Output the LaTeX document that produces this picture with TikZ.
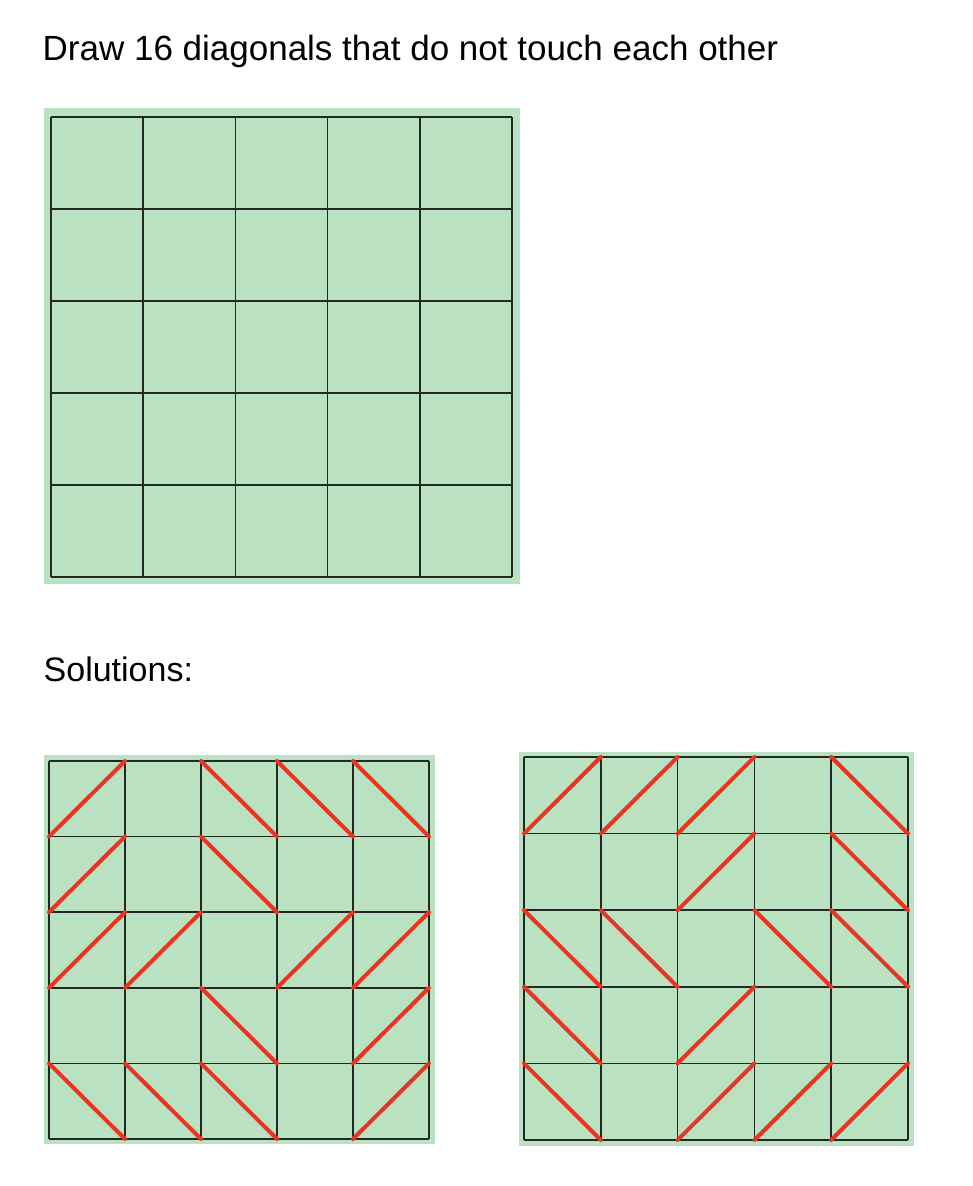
\documentclass[tikz,border=0pt]{standalone}
\usepackage{fontspec}
\setmainfont{Liberation Sans}
\definecolor{boardgreen}{RGB}{186,226,192}
\definecolor{gridline}{RGB}{34,40,36}
\definecolor{diagred}{RGB}{233,52,35}
\tikzset{
  boardbg/.style={fill=boardgreen, draw=none},
  gridlines/.style={draw=gridline, line width=1.5pt},
  diagline/.style={draw=diagred, line width=4pt, line cap=round},
  caption/.style={anchor=base west, inner sep=0pt}
}
\begin{document}
\begin{tikzpicture}[x=1pt, y=-1pt]
\useasboundingbox (0,0) rectangle (972,1186);
\fill[white] (0,0) rectangle (972,1186);

% title
\node[caption, font=\fontsize{35}{42}\selectfont] (title) at (42.5,60) {Draw 16 diagonals that do not touch each other};

% puzzle board
\fill[boardbg] (44,108) rectangle (520,584);
\begin{scope}[shift={(51,117)}, x=92.2pt, y=-92pt]
  \foreach \i in {0,...,5} {
    \draw[gridlines] (\i,0) -- (\i,5);
    \draw[gridlines] (0,\i) -- (5,\i);
  }
\end{scope}

% solutions label
\node[caption, font=\fontsize{34}{40}\selectfont] (solutions) at (43.5,681) {Solutions:};

% solution 1
\fill[boardbg] (44,755) rectangle (435,1144);
\begin{scope}[shift={(49,761)}, x=76pt, y=-75.6pt]
  \foreach \i in {0,...,5} {
    \draw[gridlines] (\i,0) -- (\i,5);
    \draw[gridlines] (0,\i) -- (5,\i);
  }
  \foreach \c/\r in {0/0,0/1,0/2,1/2,3/2,4/2,4/3,4/4}
    \draw[diagline] (\c,\r+1) -- (\c+1,\r);
  \foreach \c/\r in {2/0,3/0,4/0,2/1,2/3,0/4,1/4,2/4}
    \draw[diagline] (\c,\r) -- (\c+1,\r+1);
\end{scope}

% solution 2
\fill[boardbg] (519,752) rectangle (914,1146);
\begin{scope}[shift={(524,757)}, x=76.8pt, y=-76.6pt]
  \foreach \i in {0,...,5} {
    \draw[gridlines] (\i,0) -- (\i,5);
    \draw[gridlines] (0,\i) -- (5,\i);
  }
  \foreach \c/\r in {0/0,1/0,2/0,2/1,2/3,2/4,3/4,4/4}
    \draw[diagline] (\c,\r+1) -- (\c+1,\r);
  \foreach \c/\r in {4/0,4/1,0/2,1/2,3/2,4/2,0/3,0/4}
    \draw[diagline] (\c,\r) -- (\c+1,\r+1);
\end{scope}
\end{tikzpicture}
\end{document}
